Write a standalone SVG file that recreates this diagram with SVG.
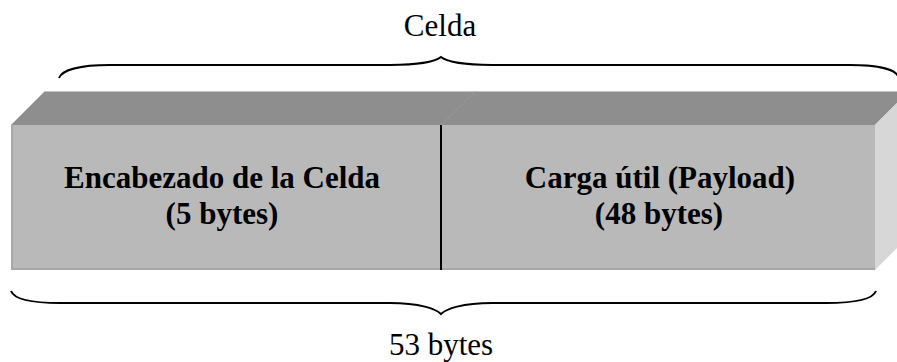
<svg xmlns="http://www.w3.org/2000/svg" width="897" height="362" viewBox="0 0 897 362">
<style>
.lbl{font-family:"Liberation Serif","Times New Roman",serif;font-weight:bold;font-size:31px;fill:#000;text-anchor:middle}
.cap{font-family:"Liberation Serif","Times New Roman",serif;font-size:31px;fill:#000;text-anchor:middle}
.brace{fill:none;stroke:#000;stroke-width:2}
</style>
<rect width="897" height="362" fill="#fff"/>
<g id="cell">
<polygon points="11,125 45,91 909,91 875,125" fill="#8e8e8e"/>
<line x1="45" y1="91.5" x2="909" y2="91.5" stroke="#c4c4c4" stroke-width="1"/>
<polygon points="875,125 909,91 909,236 875,270" fill="#d7d7d7"/>
<rect x="11" y="125" width="864" height="145" fill="#b9b9b9"/>
<line x1="12" y1="125" x2="12" y2="270" stroke="#a8a8a8" stroke-width="2"/>
<line x1="11" y1="269" x2="875" y2="269" stroke="#a8a8a8" stroke-width="2"/>
<line x1="441" y1="125" x2="476" y2="91" stroke="#9a9a9a" stroke-width="0.8"/>
</g>
<g id="header">
<text class="lbl" x="222" y="188">Encabezado de la Celda</text>
<text class="lbl" x="222" y="224">(5 bytes)</text>
</g>
<g id="payload">
<text class="lbl" x="660" y="188">Carga útil (Payload)</text>
<text class="lbl" x="659" y="224">(48 bytes)</text>
</g>
<g id="connectors">
<line x1="441" y1="125" x2="441" y2="270" stroke="#000" stroke-width="2"/>
<path class="brace" d="M59,78 C62,70 80,65 110,65 L390,65 C420,65 436,61 441,57 C446,61 462,65 492,65 L850,65 C880,65 895,70 898,76"/>
<path class="brace" d="M11,291 C14,299 30,303 60,303 L390,303 C420,303 436,309 441,314 C446,309 462,303 492,303 L826,303 C856,303 873,299 876,291"/>
</g>
<g id="labels">
<text class="cap" x="440" y="36">Celda</text>
<text class="cap" x="441" y="355">53 bytes</text>
</g>
</svg>
